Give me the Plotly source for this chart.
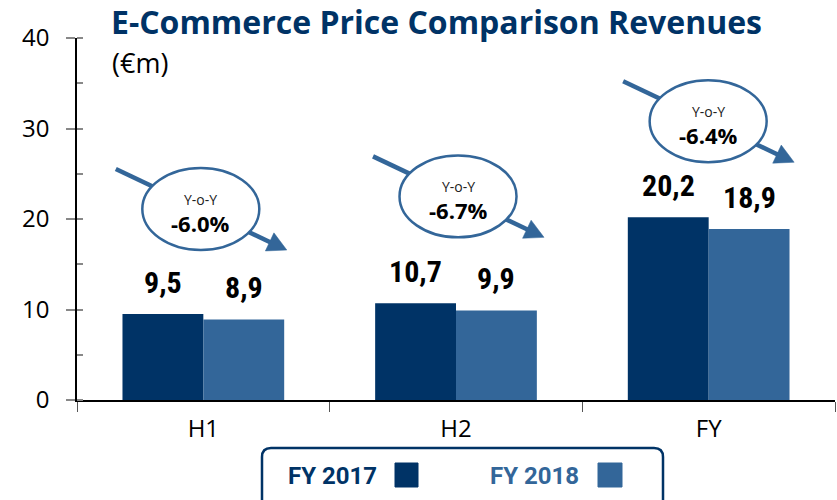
import math
import plotly.graph_objects as go

# ---------------- data ----------------
categories = ["H1", "H2", "FY"]
fy2017 = [9.5, 10.7, 20.2]
fy2018 = [8.9, 9.9, 18.9]
labels2017 = ["9,5", "10,7", "20,2"]
labels2018 = ["8,9", "9,9", "18,9"]
yoy = ["-6.0%", "-6.7%", "-6.4%"]
series_names = ["FY 2017", "FY 2018"]
y_ticks = [0, 10, 20, 30, 40]

# ---------------- style ----------------
DARK = "#003366"
LIGHT = "#336699"
W, H = 837, 500
ML, MR, MT, MB = 77, 2, 38, 100
PW, PH = W - ML - MR, H - MT - MB
YMAX = 40
PX_PER_X = PW / 3.0          # pixels per category unit
PX_PER_Y = PH / YMAX         # pixels per value unit

bubble_cy = [21.1, 22.5, 30.8]     # bubble centre (value units)
bubble_cx = [-0.01, 0.008, -0.002]  # offset from category centre
ell_a, ell_b = 58.5, 41.0           # semi axes, px

NUM_FONT = "Liberation Sans Narrow, Roboto Condensed, Roboto, sans-serif"
TXT_FONT = "Open Sans, DejaVu Sans, sans-serif"

x = list(range(len(categories)))

fig = go.Figure()
fig.add_bar(x=x, y=fy2017, name=series_names[0], marker_color=DARK,
            marker_line_width=0, showlegend=False, hoverinfo="skip")
fig.add_bar(x=x, y=fy2018, name=series_names[1], marker_color=LIGHT,
            marker_line_width=0, showlegend=False, hoverinfo="skip")

annotations = []
shapes = []

# value labels
for i in range(len(categories)):
    annotations.append(dict(x=i - 0.16, y=fy2017[i], text=labels2017[i], showarrow=False,
                            xref="x", yref="y", yanchor="bottom", yshift=12,
                            font=dict(family=NUM_FONT, size=30, color="black", weight="bold")))
    annotations.append(dict(x=i + 0.16, y=fy2018[i], text=labels2018[i], showarrow=False,
                            xref="x", yref="y", yanchor="bottom", yshift=12,
                            font=dict(family=NUM_FONT, size=30, color="black", weight="bold")))


def dx(px):
    return px / PX_PER_X


def dy(px):
    return px / PX_PER_Y


# bubbles with arrows
for i in range(len(categories)):
    cx = i + bubble_cx[i]
    cy = bubble_cy[i]
    sx, sy = -85.0, -40.0   # start offset (px, y down)
    tx, ty = 86.0, 41.0     # tip offset (px, y down)
    L = math.hypot(tx - sx, ty - sy)
    ux, uy = (tx - sx) / L, (ty - sy) / L
    hl, hw = 19.0, 10.0
    bx, by = tx - hl * ux, ty - hl * uy
    shapes.append(dict(type="line", xref="x", yref="y",
                       x0=cx + dx(sx), y0=cy - dy(sy),
                       x1=cx + dx(bx + 3 * ux), y1=cy - dy(by + 3 * uy),
                       line=dict(color=LIGHT, width=4.5)))
    shapes.append(dict(type="circle", xref="x", yref="y",
                       x0=cx - dx(ell_a), x1=cx + dx(ell_a),
                       y0=cy - dy(ell_b), y1=cy + dy(ell_b),
                       fillcolor="white", line=dict(color=LIGHT, width=2.5)))
    p1 = (tx, ty)
    p2 = (bx - hw * uy, by + hw * ux)
    p3 = (bx + hw * uy, by - hw * ux)
    path = "M {} {} L {} {} L {} {} Z".format(
        cx + dx(p1[0]), cy - dy(p1[1]),
        cx + dx(p2[0]), cy - dy(p2[1]),
        cx + dx(p3[0]), cy - dy(p3[1]))
    shapes.append(dict(type="path", xref="x", yref="y", path=path,
                       fillcolor=LIGHT, line=dict(color=LIGHT, width=0.5)))
    annotations.append(dict(x=cx, y=cy + dy(9.5), text="Y-o-Y", showarrow=False,
                            xref="x", yref="y", yanchor="middle", borderpad=0,
                            font=dict(family=TXT_FONT, size=14, color="#222222")))
    annotations.append(dict(x=cx, y=cy - dy(13.5), text=yoy[i], showarrow=False,
                            xref="x", yref="y", yanchor="middle", borderpad=0,
                            font=dict(family=TXT_FONT, size=22, color="black", weight="bold")))


def pxp(px):
    return (px - ML) / PW


def pyp(py):
    return (H - MB - py) / PH


# title
annotations.append(dict(x=pxp(110), y=pyp(-1), xref="paper", yref="paper", xanchor="left",
                        yanchor="top", showarrow=False, borderpad=0,
                        text="E-Commerce Price Comparison Revenues",
                        font=dict(family=TXT_FONT, size=32, color=DARK, weight="bold")))
annotations.append(dict(x=pxp(110), y=pyp(62), xref="paper", yref="paper", xanchor="left",
                        yanchor="middle", showarrow=False, text="(€m)",
                        font=dict(family=TXT_FONT, size=27, color="black")))

# legend box (rounded rect)
lx0, lx1, ly0, ly1, r = 262, 663, 448, 520, 9
path = ("M {a} {b} L {c} {b} Q {d} {b} {d} {e} L {d} {f} L {g} {f} L {g} {e} Q {g} {b} {a} {b} Z"
        .format(a=pxp(lx0 + r), b=pyp(ly0), c=pxp(lx1 - r), d=pxp(lx1),
                e=pyp(ly0 + r), f=pyp(ly1), g=pxp(lx0)))
shapes.append(dict(type="path", xref="paper", yref="paper", path=path,
                   line=dict(color=DARK, width=2.5), fillcolor="rgba(0,0,0,0)"))

leg_items = [(series_names[0], DARK, 332, 395, 418), (series_names[1], LIGHT, 534, 598, 622)]
for name, col, tcx, sq0, sq1 in leg_items:
    annotations.append(dict(x=pxp(tcx), y=pyp(476), xref="paper", yref="paper",
                            xanchor="center", yanchor="middle",
                            showarrow=False, text=name,
                            font=dict(family="Roboto, sans-serif", size=24, color=col,
                                      weight="bold")))
    shapes.append(dict(type="rect", xref="paper", yref="paper",
                       x0=pxp(sq0), x1=pxp(sq1), y0=pyp(487), y1=pyp(463),
                       fillcolor=col, line=dict(color=col, width=1)))

fig.update_layout(
    width=W, height=H,
    margin=dict(l=ML, r=MR, t=MT, b=MB, pad=0, autoexpand=False),
    paper_bgcolor="white", plot_bgcolor="white",
    barmode="group", bargap=0.36, bargroupgap=0,
    annotations=annotations, shapes=shapes,
    showlegend=False,
    font=dict(family=TXT_FONT),
    xaxis=dict(range=[-0.5, 2.5], tickvals=x, ticktext=categories,
               ticks="", showgrid=False, zeroline=False, automargin=False,
               showline=True, linecolor="black", linewidth=1.5,
               tickfont=dict(family=TXT_FONT, size=24, color="black"),
               ticklabelstandoff=6,
               minor=dict(tickvals=[-0.5, 0.5, 1.5, 2.5], ticks="outside",
                          ticklen=10, tickcolor="#555555", tickwidth=1)),
    yaxis=dict(range=[0, YMAX], tickvals=y_ticks, ticks="outside", ticklen=9,
               tickcolor="#888888", tickwidth=1.5, showgrid=False, zeroline=False,
               automargin=False,
               showline=True, linecolor="black", linewidth=1.5,
               tickfont=dict(family=TXT_FONT, size=24, color="black"),
               ticklabelstandoff=12,
               minor=dict(dtick=5, ticks="inside", ticklen=6, tickcolor="#888888",
                          tickwidth=1.5, showgrid=False)),
)

fig.write_html("out.html", config={"displayModeBar": False},
               post_script="document.body.style.margin='0';document.body.style.overflow='hidden';")
